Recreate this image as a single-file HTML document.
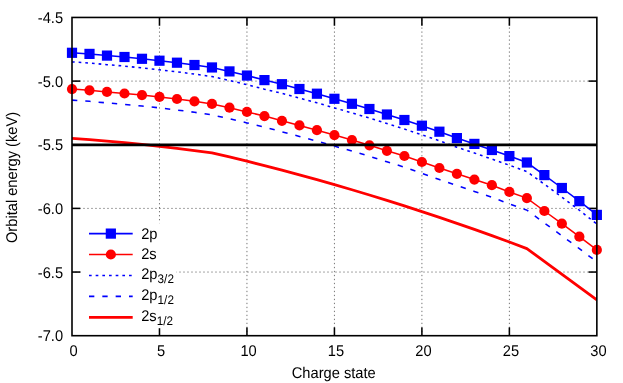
<!DOCTYPE html>
<html><head><meta charset="utf-8"><title>chart</title>
<style>
html,body{margin:0;padding:0;background:#fff;}
svg{display:block;will-change:transform;}
text{font-family:"Liberation Sans",sans-serif;font-size:14.667px;fill:#000;text-rendering:geometricPrecision;}
</style></head><body>
<svg width="623" height="383" viewBox="0 0 623 383">
<rect width="623" height="383" fill="#fff"/>
<defs><clipPath id="c"><rect x="72.0" y="17.45" width="524.85" height="318.25"/></clipPath></defs>
<g stroke="#000" stroke-opacity="0.6" stroke-width="0.9" fill="none" stroke-dasharray="1.33 2.66" stroke-dashoffset="1.95"><line x1="159.48" y1="17.45" x2="159.48" y2="335.7"/><line x1="246.95" y1="17.45" x2="246.95" y2="335.7"/><line x1="334.43" y1="17.45" x2="334.43" y2="335.7"/><line x1="421.90" y1="17.45" x2="421.90" y2="335.7"/><line x1="509.38" y1="17.45" x2="509.38" y2="335.7"/></g><g stroke="#000" stroke-opacity="0.6" stroke-width="0.9" fill="none" stroke-dasharray="1.33 2.67" stroke-dashoffset="0.67"><line x1="72.0" y1="81.10" x2="596.85" y2="81.10"/><line x1="72.0" y1="144.75" x2="596.85" y2="144.75"/><line x1="72.0" y1="208.40" x2="596.85" y2="208.40"/><line x1="72.0" y1="272.05" x2="596.85" y2="272.05"/></g>
<g stroke="#000" stroke-width="1.55" fill="none"><line x1="159.48" y1="335.7" x2="159.48" y2="327.4"/><line x1="159.48" y1="17.45" x2="159.48" y2="25.75"/><line x1="246.95" y1="335.7" x2="246.95" y2="327.4"/><line x1="246.95" y1="17.45" x2="246.95" y2="25.75"/><line x1="334.43" y1="335.7" x2="334.43" y2="327.4"/><line x1="334.43" y1="17.45" x2="334.43" y2="25.75"/><line x1="421.90" y1="335.7" x2="421.90" y2="327.4"/><line x1="421.90" y1="17.45" x2="421.90" y2="25.75"/><line x1="509.38" y1="335.7" x2="509.38" y2="327.4"/><line x1="509.38" y1="17.45" x2="509.38" y2="25.75"/><line x1="72.0" y1="81.10" x2="80.3" y2="81.10"/><line x1="596.85" y1="81.10" x2="588.5500000000001" y2="81.10"/><line x1="72.0" y1="144.75" x2="80.3" y2="144.75"/><line x1="596.85" y1="144.75" x2="588.5500000000001" y2="144.75"/><line x1="72.0" y1="208.40" x2="80.3" y2="208.40"/><line x1="596.85" y1="208.40" x2="588.5500000000001" y2="208.40"/><line x1="72.0" y1="272.05" x2="80.3" y2="272.05"/><line x1="596.85" y1="272.05" x2="588.5500000000001" y2="272.05"/></g>
<polyline points="72.00,52.80 89.50,53.90 106.99,55.60 124.48,57.00 141.98,58.80 159.48,60.70 176.97,62.70 194.47,65.00 211.96,67.45 229.46,71.40 246.95,75.55 264.45,80.10 281.94,84.20 299.44,89.00 316.93,93.70 334.43,98.80 351.92,103.80 369.42,109.00 386.91,114.50 404.41,120.00 421.90,125.70 439.40,131.70 456.89,138.10 474.39,143.90 491.88,150.00 509.38,156.10 526.87,162.50 544.37,175.10 561.86,188.00 579.36,201.15 596.85,214.90" stroke="#00f" stroke-width="1.55" fill="none"/><g fill="#00f"><rect x="66.90" y="47.70" width="10.2" height="10.2"/><rect x="84.40" y="48.80" width="10.2" height="10.2"/><rect x="101.89" y="50.50" width="10.2" height="10.2"/><rect x="119.39" y="51.90" width="10.2" height="10.2"/><rect x="136.88" y="53.70" width="10.2" height="10.2"/><rect x="154.38" y="55.60" width="10.2" height="10.2"/><rect x="171.87" y="57.60" width="10.2" height="10.2"/><rect x="189.37" y="59.90" width="10.2" height="10.2"/><rect x="206.86" y="62.35" width="10.2" height="10.2"/><rect x="224.36" y="66.30" width="10.2" height="10.2"/><rect x="241.85" y="70.45" width="10.2" height="10.2"/><rect x="259.35" y="75.00" width="10.2" height="10.2"/><rect x="276.84" y="79.10" width="10.2" height="10.2"/><rect x="294.33" y="83.90" width="10.2" height="10.2"/><rect x="311.83" y="88.60" width="10.2" height="10.2"/><rect x="329.32" y="93.70" width="10.2" height="10.2"/><rect x="346.82" y="98.70" width="10.2" height="10.2"/><rect x="364.31" y="103.90" width="10.2" height="10.2"/><rect x="381.81" y="109.40" width="10.2" height="10.2"/><rect x="399.31" y="114.90" width="10.2" height="10.2"/><rect x="416.80" y="120.60" width="10.2" height="10.2"/><rect x="434.30" y="126.60" width="10.2" height="10.2"/><rect x="451.79" y="133.00" width="10.2" height="10.2"/><rect x="469.29" y="138.80" width="10.2" height="10.2"/><rect x="486.78" y="144.90" width="10.2" height="10.2"/><rect x="504.27" y="151.00" width="10.2" height="10.2"/><rect x="521.77" y="157.40" width="10.2" height="10.2"/><rect x="539.26" y="170.00" width="10.2" height="10.2"/><rect x="556.76" y="182.90" width="10.2" height="10.2"/><rect x="574.25" y="196.05" width="10.2" height="10.2"/><rect x="591.75" y="209.80" width="10.2" height="10.2"/></g>
<polyline points="72.00,89.10 89.50,90.35 106.99,91.90 124.48,93.50 141.98,95.05 159.48,96.90 176.97,99.00 194.47,101.30 211.96,103.90 229.46,107.70 246.95,111.90 264.45,116.10 281.94,120.80 299.44,125.40 316.93,130.20 334.43,135.10 351.92,140.10 369.42,145.30 386.91,150.80 404.41,156.00 421.90,162.00 439.40,168.00 456.89,173.80 474.39,179.55 491.88,185.20 509.38,191.90 526.87,198.10 544.37,211.00 561.86,223.70 579.36,236.70 596.85,249.90" stroke="#f00" stroke-width="1.55" fill="none"/><g fill="#f00"><circle cx="72.00" cy="89.10" r="5.1"/><circle cx="89.50" cy="90.35" r="5.1"/><circle cx="106.99" cy="91.90" r="5.1"/><circle cx="124.48" cy="93.50" r="5.1"/><circle cx="141.98" cy="95.05" r="5.1"/><circle cx="159.48" cy="96.90" r="5.1"/><circle cx="176.97" cy="99.00" r="5.1"/><circle cx="194.47" cy="101.30" r="5.1"/><circle cx="211.96" cy="103.90" r="5.1"/><circle cx="229.46" cy="107.70" r="5.1"/><circle cx="246.95" cy="111.90" r="5.1"/><circle cx="264.45" cy="116.10" r="5.1"/><circle cx="281.94" cy="120.80" r="5.1"/><circle cx="299.44" cy="125.40" r="5.1"/><circle cx="316.93" cy="130.20" r="5.1"/><circle cx="334.43" cy="135.10" r="5.1"/><circle cx="351.92" cy="140.10" r="5.1"/><circle cx="369.42" cy="145.30" r="5.1"/><circle cx="386.91" cy="150.80" r="5.1"/><circle cx="404.41" cy="156.00" r="5.1"/><circle cx="421.90" cy="162.00" r="5.1"/><circle cx="439.40" cy="168.00" r="5.1"/><circle cx="456.89" cy="173.80" r="5.1"/><circle cx="474.39" cy="179.55" r="5.1"/><circle cx="491.88" cy="185.20" r="5.1"/><circle cx="509.38" cy="191.90" r="5.1"/><circle cx="526.87" cy="198.10" r="5.1"/><circle cx="544.37" cy="211.00" r="5.1"/><circle cx="561.86" cy="223.70" r="5.1"/><circle cx="579.36" cy="236.70" r="5.1"/><circle cx="596.85" cy="249.90" r="5.1"/></g>
<g clip-path="url(#c)" fill="none"><polyline points="72.00,61.90 89.50,63.00 106.99,64.70 124.48,66.10 141.98,67.90 159.48,69.80 176.97,71.80 194.47,74.10 211.96,76.55 229.46,80.50 246.95,84.65 264.45,89.20 281.94,93.30 299.44,98.10 316.93,102.80 334.43,107.90 351.92,112.90 369.42,118.10 386.91,123.60 404.41,129.10 421.90,134.80 439.40,140.80 456.89,147.20 474.39,153.00 491.88,159.10 509.38,165.20 526.87,171.60 544.37,184.20 561.86,197.10 579.36,210.25 596.85,224.00" stroke="#00f" stroke-width="1.55" stroke-dasharray="2.67 4"/><polyline points="72.00,100.10 89.50,101.35 106.99,102.90 124.48,104.50 141.98,106.05 159.48,107.90 176.97,110.00 194.47,112.30 211.96,114.90 229.46,118.70 246.95,122.90 264.45,127.10 281.94,131.80 299.44,136.40 316.93,141.20 334.43,146.10 351.92,151.10 369.42,156.30 386.91,161.80 404.41,167.18 421.90,173.36 439.40,179.54 456.89,185.52 474.39,191.45 491.88,197.20 509.38,203.90 526.87,210.10 544.37,223.00 561.86,235.70 579.36,248.70 596.85,261.90" stroke="#00f" stroke-width="1.55" stroke-dasharray="5.33 8"/><polyline points="72.00,138.34 89.50,139.65 106.99,141.11 124.48,142.71 141.98,144.46 159.48,146.34 176.97,148.37 194.47,150.53 211.96,152.80 229.46,156.93 246.95,161.19 264.45,165.59 281.94,170.14 299.44,174.82 316.93,179.65 334.43,184.62 351.92,189.73 369.42,194.98 386.91,200.37 404.41,205.90 421.90,211.57 439.40,217.39 456.89,223.34 474.39,229.44 491.88,235.67 509.38,242.05 526.87,248.60 596.85,299.80" stroke="#f00" stroke-width="2.8" stroke-linejoin="round"/><line x1="72.0" y1="144.85" x2="596.85" y2="144.85" stroke="#000" stroke-width="2.67"/></g>
<rect x="83" y="223.2" width="93.4" height="105" fill="#fff"/><line x1="89.0" y1="233.6" x2="132.7" y2="233.6" stroke="#00f" stroke-width="1.55"/><rect x="105.75" y="228.5" width="10.2" height="10.2" fill="#00f"/><line x1="89.0" y1="254.5" x2="132.7" y2="254.5" stroke="#f00" stroke-width="1.55"/><circle cx="110.85" cy="254.5" r="5.1" fill="#f00"/><line x1="89.0" y1="275.5" x2="132.7" y2="275.5" stroke="#00f" stroke-width="1.55" stroke-dasharray="2.67 4"/><line x1="89.0" y1="296.35" x2="132.7" y2="296.35" stroke="#00f" stroke-width="1.55" stroke-dasharray="5.33 8"/><line x1="89.0" y1="317.3" x2="132.7" y2="317.3" stroke="#f00" stroke-width="2.8"/><text transform="translate(141.20,238.70) scale(1,1.06)">2p</text><text transform="translate(141.20,259.20) scale(1,1.06)">2s</text><text transform="translate(141.20,278.80) scale(1,1.06)">2p<tspan font-size="11.73" dx="0.1" dy="4.06">3/2</tspan></text><text transform="translate(141.20,299.90) scale(1,1.06)">2p<tspan font-size="11.73" dx="0.1" dy="4.06">1/2</tspan></text><text transform="translate(141.20,320.70) scale(1,1.06)">2s<tspan font-size="11.73" dx="0.1" dy="4.06">1/2</tspan></text><rect x="72.0" y="17.45" width="524.85" height="318.25" fill="none" stroke="#000" stroke-width="1.6"/>
<text transform="translate(63.10,23.00) scale(1,1.06)" text-anchor="end">-4.5</text><text transform="translate(63.10,86.65) scale(1,1.06)" text-anchor="end">-5.0</text><text transform="translate(63.10,150.30) scale(1,1.06)" text-anchor="end">-5.5</text><text transform="translate(63.10,213.95) scale(1,1.06)" text-anchor="end">-6.0</text><text transform="translate(63.10,277.60) scale(1,1.06)" text-anchor="end">-6.5</text><text transform="translate(63.10,341.25) scale(1,1.06)" text-anchor="end">-7.0</text><text transform="translate(73.60,355.70) scale(1,1.06)" text-anchor="middle">0</text><text transform="translate(161.08,355.70) scale(1,1.06)" text-anchor="middle">5</text><text transform="translate(248.55,355.70) scale(1,1.06)" text-anchor="middle">10</text><text transform="translate(336.03,355.70) scale(1,1.06)" text-anchor="middle">15</text><text transform="translate(423.50,355.70) scale(1,1.06)" text-anchor="middle">20</text><text transform="translate(510.98,355.70) scale(1,1.06)" text-anchor="middle">25</text><text transform="translate(598.45,355.70) scale(1,1.06)" text-anchor="middle">30</text><text transform="translate(333.73,377.80) scale(1,1.06)" text-anchor="middle">Charge state</text><text transform="translate(16.50,177.47) rotate(-90) scale(1,1.06)" text-anchor="middle">Orbital energy (keV)</text></svg></body></html>
